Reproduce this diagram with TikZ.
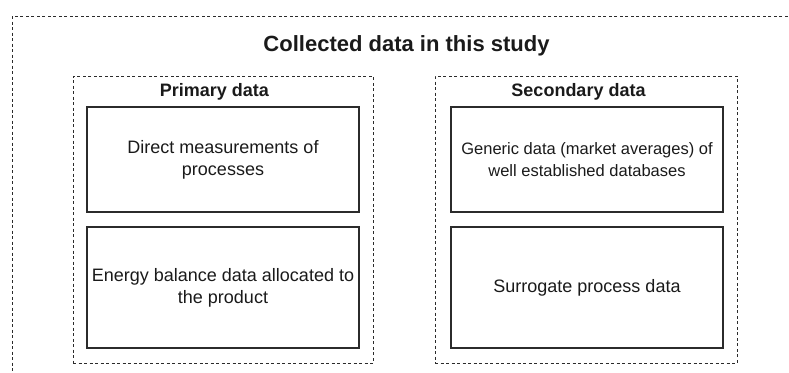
\documentclass[tikz,border=0pt]{standalone}
\usepackage{fontspec}
\setmainfont{Liberation Sans}
\definecolor{ink}{HTML}{1A1A1A}
\definecolor{edge}{HTML}{2B2B2B}
\begin{document}
\begin{tikzpicture}[x=1pt,y=-1pt,
  dashbox/.style={draw=edge,line width=1pt,dash pattern=on 3pt off 2.5pt,
    minimum width=#1,inner sep=0pt,outer sep=0pt},
  databox/.style={draw=edge,line width=1.6pt,minimum width=272pt,
    inner sep=0pt,outer sep=0pt,align=center,text=ink,
    font=\fontsize{18}{22}\selectfont},
  smalltext/.style={font=\fontsize{16.5}{22}\selectfont},
  heading/.style={text=ink,inner sep=0pt,font=\fontsize{18}{22}\selectfont\bfseries},
  title/.style={text=ink,inner sep=0pt,font=\fontsize{22}{26}\selectfont\bfseries}]
  \useasboundingbox (0,0) rectangle (789,372);
  \clip (0,0) rectangle (789,372);
  % outer frame, running past the page edges on the right and bottom
  \draw[edge,line width=1pt,dash pattern=on 3pt off 2.5pt] (12,16) rectangle (810,395);
  \node[title] (title) at (406.5,46) {Collected data in this study};
  % the two groups
  \node[dashbox=300pt,minimum height=287pt] (primary) at (223,219.5) {};
  \node[dashbox=302pt,minimum height=287pt] (secondary) at (586,219.5) {};
  \node[heading] (phead) at (214.5,92) {Primary data};
  \node[heading] (shead) at (578.5,92) {Secondary data};
  % primary data sources
  \node[databox,minimum height=105pt] (p1) at (223,159.5)
    {Direct measurements of\\processes};
  \node[databox,minimum height=121pt] (p2) at (223,287.5)
    {Energy balance data allocated to\\the product};
  % secondary data sources
  \node[databox,smalltext,minimum height=105pt] (s1) at (587,159.5)
    {Generic data (market averages) of\\well established databases};
  \node[databox,minimum height=121pt] (s2) at (587,287.5)
    {Surrogate process data};
\end{tikzpicture}
\end{document}
